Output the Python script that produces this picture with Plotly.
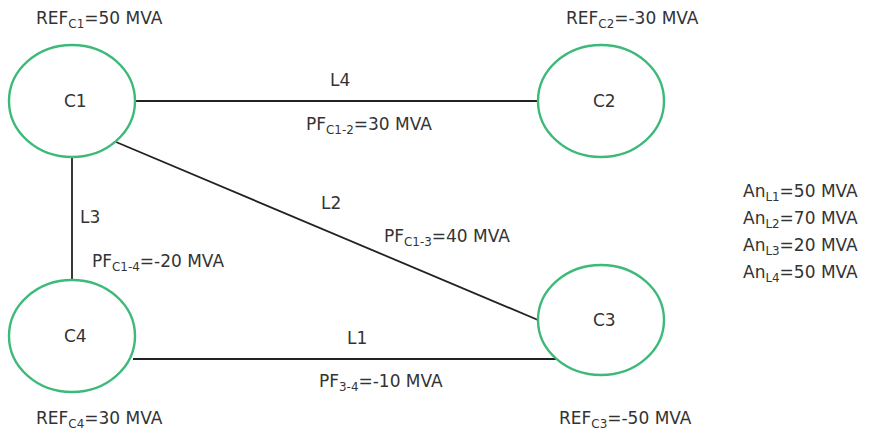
import plotly.graph_objects as go

# Nodes
node_names = ["C1", "C2", "C3", "C4"]
node_x = [72, 601, 601, 72]
node_y = [101, 101, 320, 336]
node_rx = [63, 63, 63, 63]
node_ry = [56, 56, 55, 56]

# Reference values per node
ref_labels = ["REF<sub>C1</sub>=50 MVA", "REF<sub>C2</sub>=-30 MVA",
              "REF<sub>C3</sub>=-50 MVA", "REF<sub>C4</sub>=30 MVA"]
ref_x = [99, 632, 625, 99]
ref_y = [19, 19, 419, 419]

# Lines (edges) endpoints
line_names = ["L4", "L2", "L3", "L1"]
line_x0 = [135, 116, 72, 133]
line_y0 = [101, 142, 157, 359]
line_x1 = [538, 538, 72, 556]
line_y1 = [101, 320, 280, 359]
line_label_x = [340, 331, 90, 357]
line_label_y = [80, 203, 217, 338]

# Power flows
pf_labels = ["PF<sub>C1-2</sub>=30 MVA", "PF<sub>C1-3</sub>=40 MVA",
             "PF<sub>C1-4</sub>=-20 MVA", "PF<sub>3-4</sub>=-10 MVA"]
pf_x = [369, 447, 158, 381]
pf_y = [125, 237, 262, 382]

# Line capacities
an_labels = ["An<sub>L1</sub>=50 MVA", "An<sub>L2</sub>=70 MVA",
             "An<sub>L3</sub>=20 MVA", "An<sub>L4</sub>=50 MVA"]
an_x = 741
an_y = [192, 219, 246, 273]

TXT = "#333333"
GREEN = "#3dba7a"
FONT = "DejaVu Sans"
FS = 17

fig = go.Figure()

for i in range(len(line_names)):
    fig.add_trace(go.Scatter(x=[line_x0[i], line_x1[i]], y=[line_y0[i], line_y1[i]],
                             mode="lines", line=dict(color="#222222", width=1.8),
                             hoverinfo="skip", showlegend=False))

for i in range(len(node_names)):
    fig.add_shape(type="circle", xref="x", yref="y",
                  x0=node_x[i] - node_rx[i], x1=node_x[i] + node_rx[i],
                  y0=node_y[i] - node_ry[i], y1=node_y[i] + node_ry[i],
                  line=dict(color=GREEN, width=2.4), fillcolor="rgba(0,0,0,0)")
    fig.add_annotation(x=node_x[i] + 3, y=node_y[i], text=node_names[i], showarrow=False,
                       font=dict(family=FONT, size=FS, color=TXT))

for i in range(len(ref_labels)):
    fig.add_annotation(x=ref_x[i], y=ref_y[i], text=ref_labels[i], showarrow=False,
                       font=dict(family=FONT, size=FS, color=TXT))

for i in range(len(line_names)):
    fig.add_annotation(x=line_label_x[i], y=line_label_y[i], text=line_names[i], showarrow=False,
                       font=dict(family=FONT, size=FS, color=TXT))

for i in range(len(pf_labels)):
    fig.add_annotation(x=pf_x[i], y=pf_y[i], text=pf_labels[i], showarrow=False,
                       font=dict(family=FONT, size=FS, color=TXT))

for i in range(len(an_labels)):
    fig.add_annotation(x=an_x, y=an_y[i], text=an_labels[i], showarrow=False, xanchor="left",
                       font=dict(family=FONT, size=FS, color=TXT))

fig.update_layout(
    width=870, height=434,
    margin=dict(l=0, r=0, t=0, b=0),
    paper_bgcolor="white", plot_bgcolor="white",
    xaxis=dict(range=[0, 870], visible=False, fixedrange=True),
    yaxis=dict(range=[434, 0], visible=False, fixedrange=True),
    showlegend=False,
)

fig.write_html("out.html", config={"displayModeBar": False},
               post_script="document.body.style.margin='0';document.body.style.overflow='hidden';")
